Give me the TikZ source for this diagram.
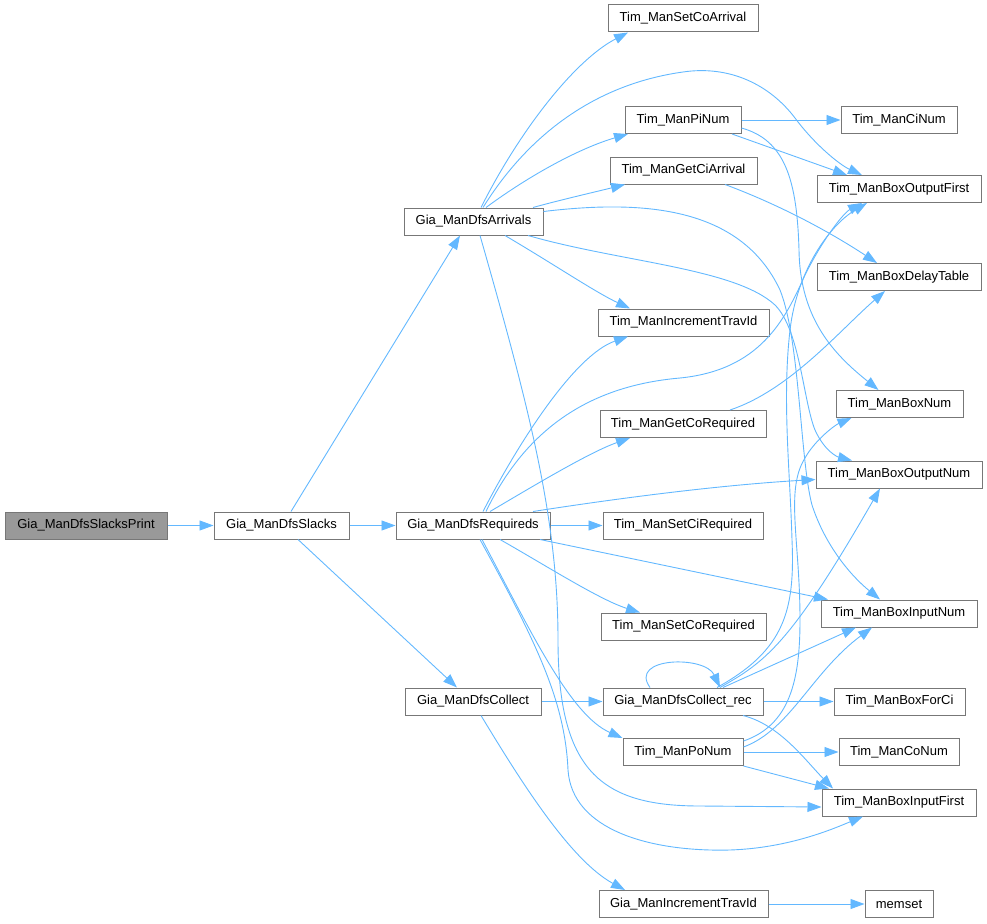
\documentclass[tikz,border=0pt]{standalone}
\usepackage{fontspec}
\setmainfont{Liberation Sans}
\usetikzlibrary{arrows.meta}
\definecolor{edgeblue}{HTML}{63B8FF}
\definecolor{boxgray}{HTML}{777777}
\definecolor{rootfill}{HTML}{999999}
\tikzset{
  box/.style={draw=boxgray, fill=white, line width=1pt, minimum height=27pt, inner sep=0pt, font=\fontsize{13}{15}\selectfont, text=black},
  rootbox/.style={box, fill=rootfill},
  callarrow/.style={draw=edgeblue, line width=0.9pt, -{Triangle[length=14pt,width=10pt]}},
}
\begin{document}
\begin{tikzpicture}[x=1pt,y=-1pt]
\useasboundingbox (0,0) rectangle (987,923);
% nodes
\node[rootbox, minimum width=162pt] (print) at (86,525.5) {Gia\_ManDfsSlacksPrint};
\node[box, minimum width=135pt] (slacks) at (281.5,525.5) {Gia\_ManDfsSlacks};
\node[box, minimum width=154pt] (req) at (473,525.5) {Gia\_ManDfsRequireds};
\node[box, minimum width=139pt] (arr) at (473.5,221.5) {Gia\_ManDfsArrivals};
\node[box, minimum width=136pt] (coll) at (473,701.5) {Gia\_ManDfsCollect};
\node[box, minimum width=150pt] (setcoarr) at (683,18.5) {Tim\_ManSetCoArrival};
\node[box, minimum width=116pt] (pinum) at (683,120) {Tim\_ManPiNum};
\node[box, minimum width=116pt] (cinum) at (899,120) {Tim\_ManCiNum};
\node[box, minimum width=147pt] (getciarr) at (683.5,170.5) {Tim\_ManGetCiArrival};
\node[box, minimum width=164pt] (boxoutfirst) at (899,189) {Tim\_ManBoxOutputFirst};
\node[box, minimum width=164pt] (delaytable) at (899,277) {Tim\_ManBoxDelayTable};
\node[box, minimum width=171pt] (timinc) at (683.5,322.5) {Tim\_ManIncrementTravId};
\node[box, minimum width=127pt] (boxnum) at (899.5,404) {Tim\_ManBoxNum};
\node[box, minimum width=166pt] (getcoreq) at (683,424) {Tim\_ManGetCoRequired};
\node[box, minimum width=166pt] (boxoutnum) at (899,474.5) {Tim\_ManBoxOutputNum};
\node[box, minimum width=160pt] (setcireq) at (683,525.5) {Tim\_ManSetCiRequired};
\node[box, minimum width=156pt] (boxinnum) at (899,613.5) {Tim\_ManBoxInputNum};
\node[box, minimum width=165pt] (setcoreq) at (683.5,626.5) {Tim\_ManSetCoRequired};
\node[box, minimum width=160pt] (collrec) at (683,701.5) {Gia\_ManDfsCollect\_rec};
\node[box, minimum width=131pt] (boxforci) at (899.5,701.5) {Tim\_ManBoxForCi};
\node[box, minimum width=120pt] (ponum) at (683,752) {Tim\_ManPoNum};
\node[box, minimum width=120pt] (conum) at (899,752) {Tim\_ManCoNum};
\node[box, minimum width=154pt] (boxinfirst) at (899,802.5) {Tim\_ManBoxInputFirst};
\node[box, minimum width=169pt] (giainc) at (683.5,904) {Gia\_ManIncrementTravId};
\node[box, minimum width=68pt] (memset) at (899,904) {memset};
% edges
\draw[callarrow] (print.east) -- (slacks.west);
\draw[callarrow] ([xshift=9.5pt]slacks.north) -- ([xshift=-13.5pt]arr.south);
\draw[callarrow] (slacks.east) -- (req.west);
\draw[callarrow] ([xshift=16.5pt]slacks.south) -- ([xshift=-16pt]coll.north);
% Arrivals
\draw[callarrow] ([xshift=7.5pt]arr.north) .. controls (520,130) and (575,60) .. ([xshift=-55pt]setcoarr.south);
\draw[callarrow] ([xshift=9.5pt]arr.north) .. controls (525,140) and (590,85) .. (683,72) .. controls (730,65) and (770,85) .. (795,118) .. controls (815,145) and (840,165) .. ([xshift=-37pt]boxoutfirst.north);
\draw[callarrow] ([xshift=12.5pt]arr.north) .. controls (530,175) and (580,148) .. ([xshift=-55pt]pinum.south);
\draw[callarrow] ([xshift=59.5pt]arr.north) .. controls (560,200) and (595,192) .. ([xshift=-58.5pt]getciarr.south);
\draw[callarrow] ([yshift=10pt]arr.east) .. controls (640,200) and (740,205) .. (780,290) .. controls (800,340) and (800,460) .. (812,505) .. controls (825,545) and (850,575) .. ([xshift=-19pt]boxinnum.north);
\draw[callarrow] ([xshift=54.5pt]arr.south) .. controls (620,262) and (735,268) .. (775,305) .. controls (800,330) and (803,400) .. (815,430) .. controls (825,452) and (838,457) .. ([xshift=-47pt]boxoutnum.north);
\draw[callarrow] ([xshift=31.5pt]arr.south) .. controls (555,265) and (595,292) .. ([xshift=-53.5pt]timinc.north);
\draw[callarrow] ([xshift=6.5pt]arr.south) .. controls (530,410) and (558,520) .. (558,640) .. controls (558,770) and (600,806) .. (700,806) -- ([yshift=-4.5pt]boxinfirst.west);
% Requireds
\draw[callarrow] ([xshift=10pt]req.north) .. controls (520,440) and (575,355) .. ([xshift=-55.5pt]timinc.south);
\draw[callarrow] ([xshift=13pt]req.north) .. controls (530,420) and (600,385) .. (680,378) .. controls (760,370) and (785,320) .. (805,275) .. controls (825,235) and (845,212) .. ([xshift=-37pt]boxoutfirst.south);
\draw[callarrow] ([xshift=17pt]req.north) .. controls (535,485) and (590,452) .. ([xshift=-53pt]getcoreq.south);
\draw[callarrow] ([xshift=60pt]req.north) .. controls (620,498) and (720,485) .. ([yshift=-5pt]boxoutnum.west);
\draw[callarrow] (req.east) -- (setcireq.west);
\draw[callarrow] ([xshift=67pt]req.south) -- ([xshift=-71pt]boxinnum.north);
\draw[callarrow] ([xshift=27pt]req.south) .. controls (545,565) and (600,600) .. ([xshift=-43.5pt]setcoreq.north);
\draw[callarrow] ([xshift=9pt]req.south) .. controls (530,630) and (570,715) .. (ponum.north west);
\draw[callarrow] ([xshift=7pt]req.south) .. controls (535,640) and (565,700) .. (568,770) .. controls (572,830) and (650,852) .. (730,850) .. controls (790,848) and (835,828) .. ([xshift=-36pt]boxinfirst.south);
% Collect
\draw[callarrow] (coll.east) -- (collrec.west);
\draw[callarrow] ([xshift=8pt]coll.south) .. controls (520,780) and (570,860) .. ([xshift=-58.5pt]giainc.north);
% Collect_rec
\draw[callarrow] ([xshift=-33pt]collrec.north) .. controls (628,657) and (705,655) .. ([xshift=37pt]collrec.north);
\draw[callarrow] ([xshift=34pt]collrec.north) .. controls (785,650) and (795,610) .. (792,540) .. controls (790,470) and (782,400) .. (790,330) .. controls (797,270) and (830,225) .. ([xshift=-32pt]boxoutfirst.south);
\draw[callarrow] ([xshift=37pt]collrec.north) .. controls (765,662) and (790,645) .. ([xshift=-19pt]boxoutnum.south);
\draw[callarrow] ([xshift=40pt]collrec.north) -- ([xshift=-43pt]boxinnum.south);
\draw[callarrow] (collrec.east) -- (boxforci.west);
\draw[callarrow] ([xshift=60pt]collrec.south) .. controls (780,725) and (805,760) .. ([xshift=-66pt]boxinfirst.north);
% PoNum
\draw[callarrow] (ponum.east) -- (conum.west);
\draw[callarrow] (ponum.south east) -- ([xshift=-70pt]boxinfirst.north);
\draw[callarrow] ([yshift=5pt]ponum.east) .. controls (790,730) and (812,672) .. ([xshift=-27pt]boxinnum.south);
\draw[callarrow] ([yshift=11pt]ponum.east) .. controls (790,725) and (800,680) .. (800,620) .. controls (800,540) and (785,490) .. (805,458) .. controls (815,440) and (835,425) .. ([xshift=-48pt]boxnum.south);
% PiNum
\draw[callarrow] (pinum.east) -- (cinum.west);
\draw[callarrow] ([xshift=49pt]pinum.south) -- ([xshift=-52pt]boxoutfirst.north);
\draw[callarrow] ([yshift=-8pt]pinum.east) .. controls (785,140) and (797,180) .. (799,250) .. controls (800,320) and (835,355) .. ([xshift=-21pt]boxnum.north);
% others
\draw[callarrow] ([xshift=41.5pt]getciarr.south) .. controls (780,205) and (830,232) .. ([xshift=-22pt]delaytable.north);
\draw[callarrow] ([xshift=47pt]getcoreq.north) .. controls (790,390) and (840,330) .. ([xshift=-14pt]delaytable.south);
\draw[callarrow] (giainc.east) -- (memset.west);
\end{tikzpicture}
\end{document}
